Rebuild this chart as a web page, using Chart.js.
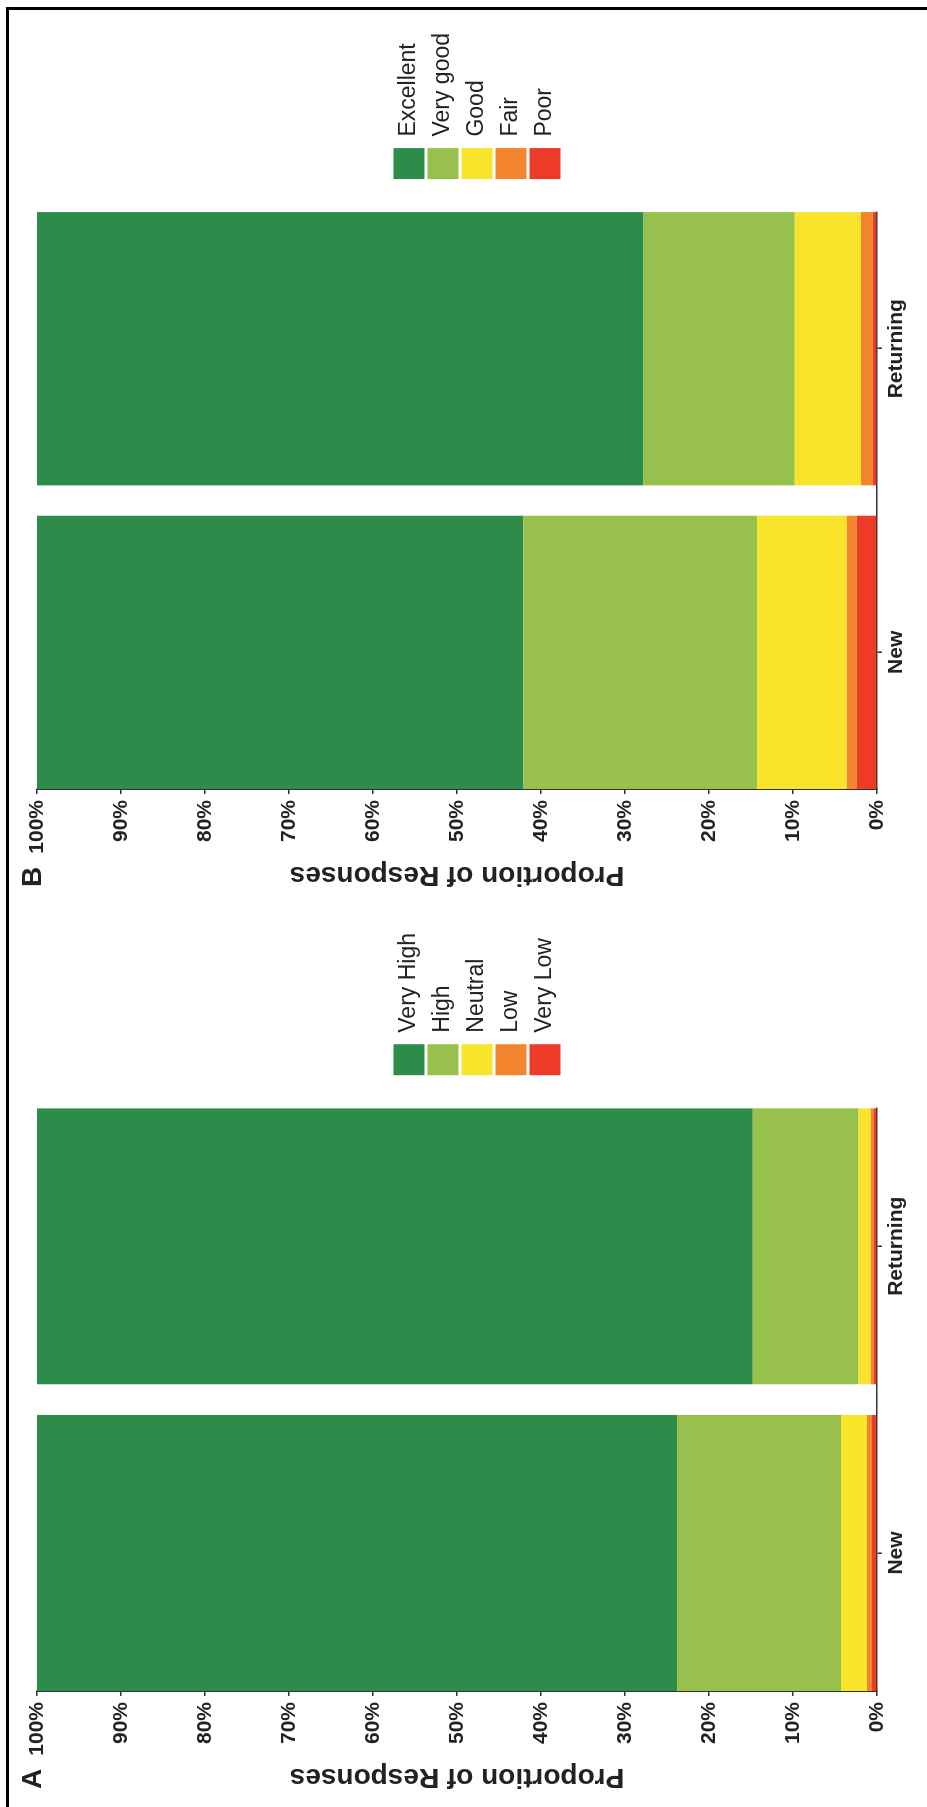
<!DOCTYPE html>
<html>
<head>
<meta charset="utf-8">
<script src="https://cdn.jsdelivr.net/npm/chart.js@4"></script>
<style>
  html, body { margin: 0; padding: 0; background: #fff; }
  body { width: 927px; height: 1807px; position: relative; overflow: hidden; }
  #frame { position: absolute; left: 6px; top: 7px; width: 2000px; height: 3000px;
           border-top: 3px solid #000; border-left: 3px solid #000; }
  /* the figure is laid out upright and turned a quarter turn, as in the print */
  #figure { position: absolute; left: 0; top: 0; width: 1807px; height: 927px;
            transform-origin: 0 0; transform: translate(0, 1807px) rotate(-90deg); }
  .panel { position: absolute; top: 0; height: 927px; }
  .panel canvas { position: absolute; left: 0; top: 0; }
  .tag { position: absolute; left: 18px; top: 18px; color: #222;
         font: bold 28px 'Liberation Sans', Arial, sans-serif; line-height: 28px; }
</style>
</head>
<body>
<div id="frame"></div>
<div id="figure">
  <div class="panel" style="left:0; width:902px">
    <canvas id="chartA" width="902" height="927"></canvas>
    <span class="tag">A</span>
  </div>
  <div class="panel" style="left:902px; width:905px">
    <canvas id="chartB" width="905" height="927"></canvas>
    <span class="tag">B</span>
  </div>
</div>
<script>
Chart.defaults.font.family = "'Liberation Sans', Arial, Helvetica, sans-serif";
Chart.defaults.color = '#222';

// data (percent of responses)
var customers = ['New', 'Returning'];

var interestLevels = ['Very High', 'High', 'Neutral', 'Low', 'Very Low'];
var interestNew = [76.2, 19.5, 3.1, 0.6, 0.6];
var interestReturning = [85.2, 12.6, 1.45, 0.4, 0.35];

var ratingLevels = ['Excellent', 'Very good', 'Good', 'Fair', 'Poor'];
var ratingNew = [57.9, 27.8, 10.7, 1.2, 2.4];
var ratingReturning = [72.2, 18.0, 7.9, 1.4, 0.5];

var levelColors = ['#2e8c4b', '#97c14c', '#f8e42a', '#f2852e', '#ee3b27'];
var pctTicks = [0, 10, 20, 30, 40, 50, 60, 70, 80, 90, 100];

var axisColor = '#333';

// move the legend off the plot a bit, like the original
var legendShift = {
    id: 'legendShift',
    afterLayout: function (chart, args, opts) {
        var lg = chart.legend;
        lg.left += opts.dx;
        lg.right += opts.dx;
        lg.top += opts.dy;
        lg.bottom += opts.dy;
    }
};

function buildSets(levels, newVals, retVals) {
    var sets = [];
    for (var i = 0; i < levels.length; i++) {
        sets.push({
            label: levels[i],
            data: [{ x: 0, y: newVals[i] }, { x: 1, y: retVals[i] }],
            backgroundColor: levelColors[i],
            borderWidth: 0,
            barPercentage: 0.9,
            categoryPercentage: 1
        });
    }
    // lowest level at the bottom of the stack
    return sets.reverse();
}

function makeChart(id, levels, newVals, retVals, padRight) {
    var ctx = document.getElementById(id).getContext('2d');
    return new Chart(ctx, {
        type: 'bar',
        data: { datasets: buildSets(levels, newVals, retVals) },
        options: {
            responsive: false,
            animation: false,
            devicePixelRatio: 1,
            layout: { padding: { top: 37, left: 0, right: padRight, bottom: 0 } },
            plugins: {
                tooltip: { enabled: false },
                legend: {
                    position: 'right',
                    fullSize: false,
                    reverse: true,
                    labels: {
                        boxWidth: 31,
                        boxHeight: 31,
                        padding: 3,
                        color: '#222',
                        font: { size: 23 }
                    }
                },
                legendShift: { dx: 30, dy: 20 }
            },
            scales: {
                x: {
                    type: 'linear',
                    stacked: true,
                    offset: false,
                    bounds: 'data',
                    min: -0.45,
                    max: 1.45,
                    afterBuildTicks: function (axis) {
                        axis.ticks = customers.map(function (c, i) { return { value: i }; });
                    },
                    afterFit: function (axis) { axis.height = 50; },
                    ticks: {
                        callback: function (v) { return customers[v]; },
                        font: { size: 21, weight: 'bold' },
                        color: '#222',
                        padding: 2,
                        maxRotation: 0
                    },
                    grid: { offset: false, drawOnChartArea: false, tickLength: 5, color: axisColor, lineWidth: 1.5 },
                    border: { color: axisColor, width: 1.5 }
                },
                y: {
                    stacked: true,
                    min: 0,
                    max: 100,
                    afterBuildTicks: function (axis) {
                        axis.ticks = pctTicks.map(function (t) { return { value: t }; });
                    },
                    afterFit: function (axis) { axis.width = 116; },
                    ticks: {
                        callback: function (v) { return v + '%'; },
                        font: { size: 21, weight: 'bold' },
                        color: '#222',
                        padding: 6
                    },
                    title: {
                        display: true,
                        text: 'Proportion of Responses',
                        font: { size: 28, weight: 'bold' },
                        color: '#222',
                        padding: { top: 13, bottom: 0 }
                    },
                    grid: { drawOnChartArea: false, tickLength: 5, color: axisColor, lineWidth: 1.5 },
                    border: { color: axisColor, width: 1.5 }
                }
            }
        },
        plugins: [legendShift]
    });
}

var chartA = makeChart('chartA', interestLevels, interestNew, interestReturning, 48);
var chartB = makeChart('chartB', ratingLevels, ratingNew, ratingReturning, 53);
</script>
</body>
</html>
